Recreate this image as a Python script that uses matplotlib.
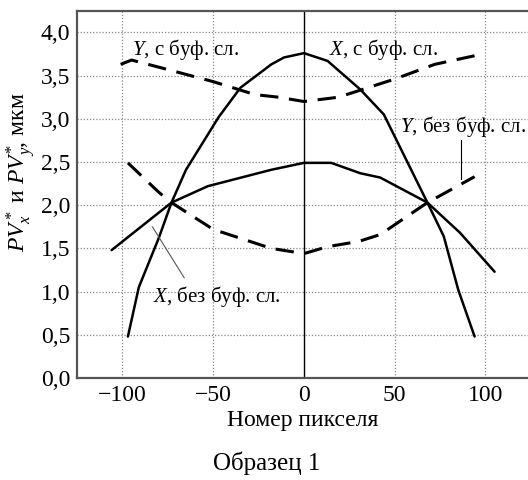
import matplotlib.pyplot as plt

plt.rcParams["font.family"] = ["Liberation Serif", "DejaVu Serif"]
plt.rcParams["mathtext.fontset"] = "custom"
plt.rcParams["mathtext.rm"] = "Liberation Serif"
plt.rcParams["mathtext.it"] = "Liberation Serif:italic"

# X profile, with buffer layer
x_buf_px = [-97, -91, -80, -73, -65, -47, -35, -18, -11, 0, 13, 31, 44, 68, 77, 85, 94]
x_buf_pv = [0.48, 1.05, 1.62, 2.03, 2.41, 3.02, 3.36, 3.63, 3.71, 3.76, 3.67, 3.34, 3.05, 2.03, 1.64, 1.02, 0.48]

# X profile, no buffer layer
x_nobuf_px = [-106, -73, -53, -18, 0, 15, 31, 42, 68, 86, 105]
x_nobuf_pv = [1.48, 2.03, 2.22, 2.41, 2.49, 2.49, 2.37, 2.32, 2.03, 1.68, 1.23]

# Y profile, with buffer layer
y_buf_px = [-101, -95, -75, -50, -27, -14, 0, 19, 50, 72, 94]
y_buf_pv = [3.63, 3.68, 3.57, 3.43, 3.28, 3.25, 3.20, 3.25, 3.46, 3.63, 3.73]

# Y profile, no buffer layer
y_nobuf_px = [-97, -80, -73, -50, -18, 0, 13, 30, 42, 68, 94]
y_nobuf_pv = [2.49, 2.15, 2.03, 1.72, 1.50, 1.44, 1.52, 1.58, 1.66, 2.03, 2.33]

xticks = [-100, -50, 0, 50, 100]
yticks = [0.0, 0.5, 1.0, 1.5, 2.0, 2.5, 3.0, 3.5, 4.0]

fig = plt.figure(figsize=(5.28, 4.8), dpi=100)
ax = fig.add_axes([0.146, 0.2125, 0.856, 0.765])

ax.plot(x_buf_px, x_buf_pv, color="black", lw=1.8, solid_capstyle="round")
ax.plot(x_nobuf_px, x_nobuf_pv, color="black", lw=1.8, solid_capstyle="round")
ax.plot(y_buf_px, y_buf_pv, color="black", lw=2.2, ls=(0, (6, 3.5)))
ax.plot(y_nobuf_px, y_nobuf_pv, color="black", lw=2.2, ls=(0, (6, 3.5)))

ax.axvline(0, color="black", lw=1.0, zorder=1)

ax.set_xlim(-125, 124)
ax.set_ylim(0, 4.25)
ax.set_xticks(xticks)
ax.set_xticklabels(["\u2212100", "\u221250", "0", "50", "100"])
ax.set_yticks(yticks)
ax.set_yticklabels([f"{v:.1f}".replace(".", ",") for v in yticks])
ax.tick_params(length=0, labelsize=17, pad=5)

for v in yticks[1:]:
    ax.axhline(v, color="#888888", lw=0.9, ls=(0, (1, 1.5)), zorder=0)
for v in [-100, -50, 50, 100]:
    ax.axvline(v, color="#888888", lw=0.9, ls=(0, (1, 1.5)), zorder=0)

for side in ["left", "top", "bottom"]:
    ax.spines[side].set_color("#555555")
    ax.spines[side].set_linewidth(1.6)
ax.spines["right"].set_visible(False)

ax.text(-95, 3.8, r"$Y$, с буф. сл.", fontsize=15, va="center")
ax.text(14, 3.8, r"$X$, с буф. сл.", fontsize=15, va="center")
ax.text(53, 2.91, r"$Y$, без буф. сл.", fontsize=15, va="center")
ax.text(-83, 0.94, r"$X$, без буф. сл.", fontsize=15, va="center")
ax.plot([86.5, 86.5], [2.76, 2.30], color="black", lw=0.8)
ax.plot([-83.5, -66], [1.75, 1.16], color="#555555", lw=0.8)

ax.set_xlabel("Номер пикселя", fontsize=17, labelpad=3)
ax.set_ylabel(r"$PV_x^*$ и $PV_y^{*}\!$, мкм", fontsize=17)
ax.yaxis.set_label_coords(-0.087, 0.56)
fig.text(0.506, 0.035, "Образец 1", fontsize=18, ha="center", va="center")

fig.savefig("out.png", dpi=100)
